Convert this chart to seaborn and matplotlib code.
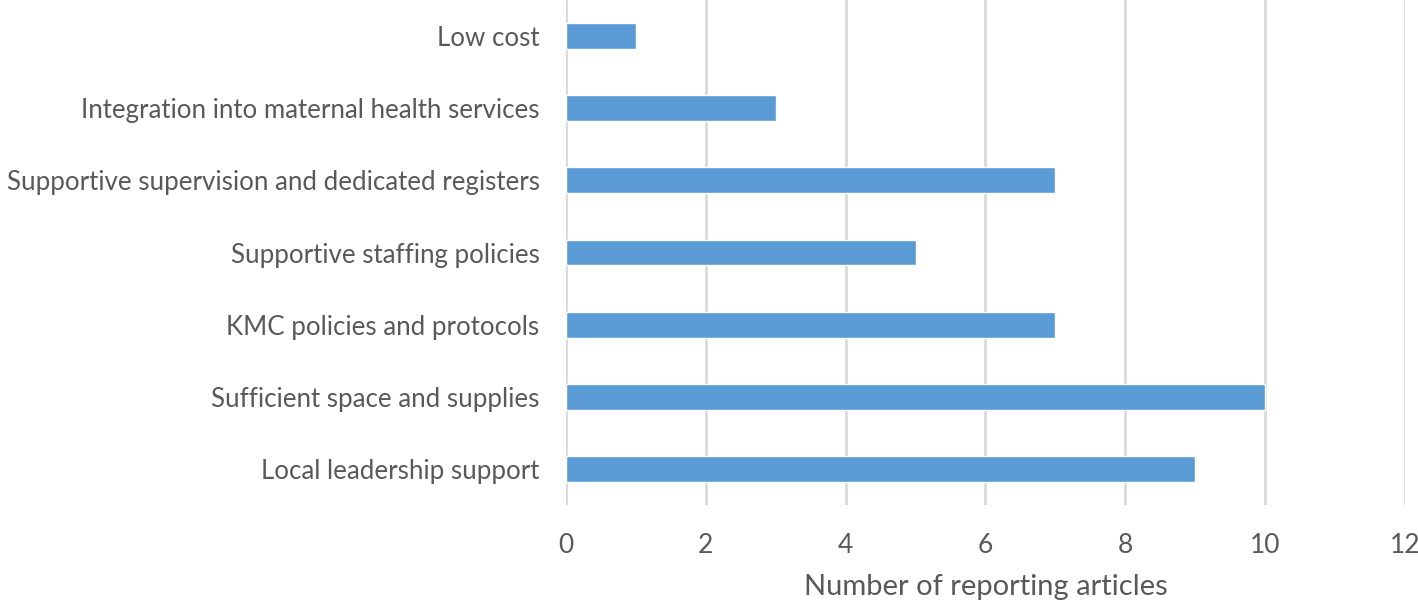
import matplotlib
matplotlib.use("Agg")
import matplotlib.pyplot as plt
import seaborn as sns
import pandas as pd

categories = [
    "Low cost",
    "Integration into maternal health services",
    "Supportive supervision and dedicated registers",
    "Supportive staffing policies",
    "KMC policies and protocols",
    "Sufficient space and supplies",
    "Local leadership support",
]
values = [1, 3, 7, 5, 7, 10, 9]
x_ticks = [0, 2, 4, 6, 8, 10, 12]
x_label = "Number of reporting articles"

df = pd.DataFrame({"factor": categories, "count": values})

sns.set_theme(style="white")
plt.rcParams["font.family"] = ["Lato", "DejaVu Sans"]

fig = plt.figure(figsize=(14.18, 6.03), dpi=100)
ax = fig.add_axes([566 / 1418, 1 - 505 / 603, (1405 - 566) / 1418, 505 / 603])

sns.barplot(data=df, x="count", y="factor", orient="h", color="#5B9BD5",
            saturation=1, width=0.36, ax=ax, order=categories, zorder=3)

text_color = "#595959"
ax.set_xlim(0, 12)
ax.set_ylim(6.5, -0.5)
ax.set_xticks(x_ticks)
ax.set_xticklabels([str(t) for t in x_ticks], fontsize=19, color=text_color)
ax.tick_params(axis="x", length=0, pad=20)
ax.tick_params(axis="y", length=0, pad=19, labelsize=18.6, labelcolor=text_color)
ax.set_ylabel("")
ax.set_xlabel(x_label, fontsize=21, color=text_color, labelpad=12)
ax.grid(axis="x", color="#D9D9D9", linewidth=2, zorder=0)
ax.grid(axis="y", visible=False)
for s in ax.spines.values():
    s.set_visible(False)

fig.savefig("out.png", dpi=100)
